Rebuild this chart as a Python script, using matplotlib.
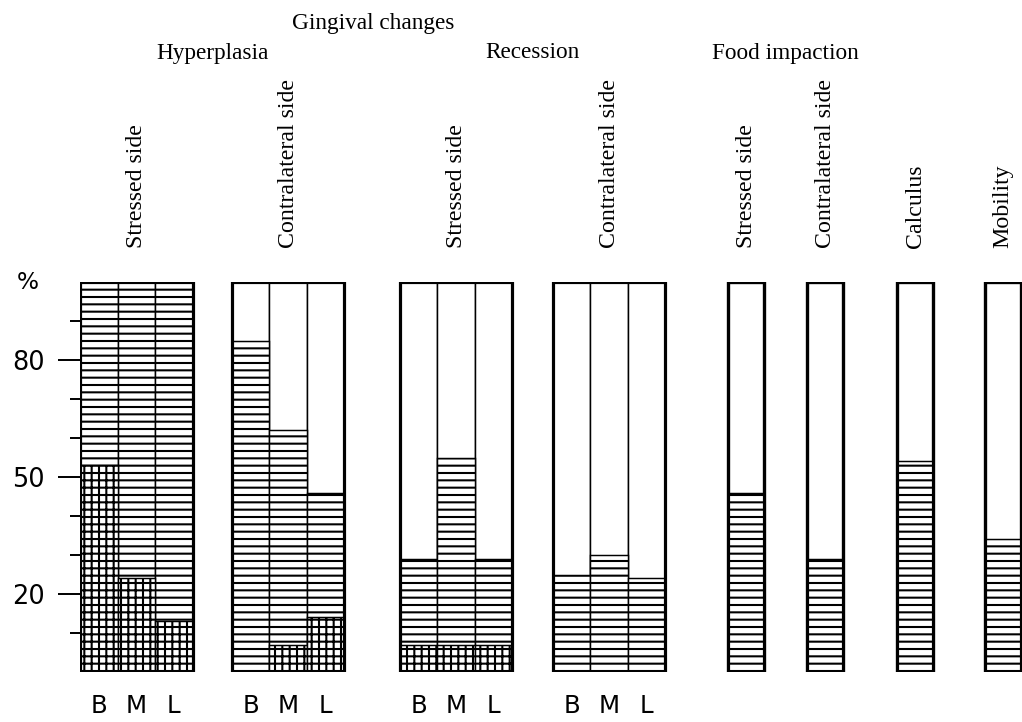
import numpy as np
from matplotlib import pyplot as plt

# values, percent of teeth
sites = ["B", "M", "L"]
hyper_stressed = [100, 100, 100]      # horizontal hatch
hyper_stressed_x = [53, 24, 13]       # cross hatch part
hyper_contra = [85, 62, 46]
hyper_contra_x = [0, 7, 14]
rec_stressed = [29, 55, 29]
rec_stressed_x = [7, 7, 7]
rec_contra = [25, 30, 24]
rec_contra_x = [0, 0, 0]

single_names = ["Stressed side", "Contralateral side", "Calculus", "Mobility"]
single_vals = [46, 29, 54, 34]

group_names = ["Stressed side", "Contralateral side", "Stressed side", "Contralateral side"]
y_ticks = [20, 50, 80]
y_minor = [10, 30, 40, 60, 70, 90]

DPI = 88
plt.rcParams['hatch.linewidth'] = 1.7
serif = "Liberation Serif"

fig = plt.figure(figsize=(1022 / DPI, 722 / DPI), dpi=DPI)
ax = fig.add_axes([80 / 1022, 50 / 722, 942 / 1022, 390 / 722])

group_left = [0, 4.05, 8.53, 12.61]  # left edge of each B-M-L block
single_left = [17.28, 19.39, 21.79, 24.13]
w = 1.0
sw = 0.96

tops = [hyper_stressed, hyper_contra, rec_stressed, rec_contra]
cross = [hyper_stressed_x, hyper_contra_x, rec_stressed_x, rec_contra_x]

xt = []
for g in range(4):
  x = group_left[g] + np.arange(3) * w
  xt += list(x + w / 2)
  ax.bar(x, [100] * 3, w, align='edge', color='white', edgecolor='black', lw=1.2)
  ax.bar(x, tops[g], w, align='edge', color='white', edgecolor='black', lw=1.2, hatch='--')
  for xi, c in zip(x, cross[g]):
    if c > 0:
      ax.bar(xi, c, w, align='edge', color='white', edgecolor='black', lw=1.2, hatch='++')
  ax.bar(group_left[g], 100, 3 * w, align='edge', fill=False, edgecolor='black', lw=2.6) #outer frame

ax.bar(single_left, [100] * 4, sw, align='edge', color='white', edgecolor='black', lw=2.6)
ax.bar(single_left, single_vals, sw, align='edge', color='white', edgecolor='black', lw=1.2, hatch='--')
ax.bar(single_left, [100] * 4, sw, align='edge', fill=False, edgecolor='black', lw=2.6)

ax.set_xlim(0, 942 / 37.5)
ax.set_ylim(0, 100)
for s in ax.spines.values():
  s.set_visible(False)

ax.set_yticks(y_ticks)
ax.set_yticklabels([str(v) for v in y_ticks], fontsize=21, family="DejaVu Sans")
ax.set_yticks(y_minor, minor=True)
ax.tick_params(axis='y', which='major', length=18, width=1.6, pad=11)
ax.tick_params(axis='y', which='minor', length=8, width=1.6)
ax.set_xticks(xt)
ax.set_xticklabels(sites * 4, fontsize=20, family="DejaVu Sans")
ax.tick_params(axis='x', length=0, pad=18)

ax.annotate('%', xy=(0, 100), xycoords=('axes fraction', 'data'), xytext=(-43, 0),
            textcoords='offset points', ha='center', va='center', fontsize=19, family="DejaVu Sans")

# rotated labels above the bars
label_x = [gl + 1.5 * w for gl in group_left] + [sl + sw / 2 for sl in single_left]
for lx, name in zip(label_x, group_names + single_names):
  ax.annotate(name, xy=(lx, 1), xycoords=('data', 'axes fraction'), xytext=(0, 28),
              textcoords='offset points', rotation=90, ha='center', va='bottom',
              fontsize=19.5, family=serif)

# headings, centred over the bars they belong to
heads = [("Hyperplasia", group_left[0], group_left[1] + 3 * w),
         ("Recession", group_left[2], group_left[3] + 3 * w),
         ("Food impaction", single_left[0], single_left[1] + sw)]
for name, a, b in heads:
  xf = ax.transData.transform(((a + b) / 2, 0))[0] / fig.bbox.width
  fig.text(xf, 1 - 53 / 722, name, ha='center', va='center', fontsize=19, family=serif)
xf = ax.transData.transform(((group_left[0] + group_left[3] + 3 * w) / 2, 0))[0] / fig.bbox.width
fig.text(xf, 1 - 23 / 722, "Gingival changes", ha='center', va='center', fontsize=19, family=serif)

plt.savefig("out.png", dpi=DPI)
